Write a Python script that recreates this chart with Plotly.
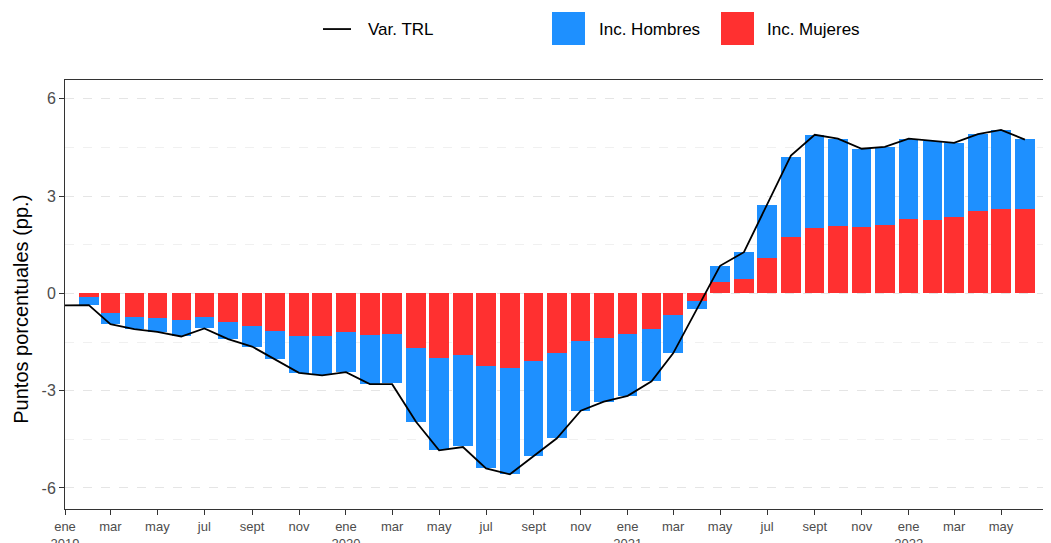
import plotly.graph_objects as go

# ---------------- data ----------------
line_dates = ["2019-01-01", "2019-02-01", "2019-03-01", "2019-04-01", "2019-05-01", "2019-06-01",
              "2019-07-01", "2019-08-01", "2019-09-01", "2019-10-01", "2019-11-01", "2019-12-01",
              "2020-01-01", "2020-02-01", "2020-03-01", "2020-04-01", "2020-05-01", "2020-06-01",
              "2020-07-01", "2020-08-01", "2020-09-01", "2020-10-01", "2020-11-01", "2020-12-01",
              "2021-01-01", "2021-02-01", "2021-03-01", "2021-04-01", "2021-05-01", "2021-06-01",
              "2021-07-01", "2021-08-01", "2021-09-01", "2021-10-01", "2021-11-01", "2021-12-01",
              "2022-01-01", "2022-02-01", "2022-03-01", "2022-04-01", "2022-05-01", "2022-06-01"]
var_trl = [-0.37, -0.36, -0.95, -1.10, -1.19, -1.33, -1.08, -1.41, -1.64, -2.03, -2.45, -2.53,
           -2.43, -2.80, -2.80, -3.96, -4.84, -4.74, -5.40, -5.58, -5.02, -4.47, -3.62, -3.34,
           -3.16, -2.71, -1.85, -0.48, 0.85, 1.27, 2.71, 4.25, 4.89, 4.77, 4.46, 4.52,
           4.77, 4.69, 4.64, 4.91, 5.04, 4.74]

bar_dates = line_dates[1:]
inc_mujeres = [-0.12, -0.59, -0.72, -0.75, -0.81, -0.73, -0.87, -1.00, -1.15, -1.33, -1.33,
               -1.20, -1.28, -1.24, -1.69, -2.00, -1.91, -2.25, -2.30, -2.10, -1.83, -1.48, -1.39,
               -1.26, -1.11, -0.67, -0.23, 0.36, 0.44, 1.09, 1.75, 2.03, 2.09, 2.05, 2.12,
               2.29, 2.27, 2.34, 2.53, 2.59, 2.59]
inc_hombres = [-0.23, -0.36, -0.38, -0.44, -0.52, -0.35, -0.54, -0.64, -0.88, -1.12, -1.20,
               -1.23, -1.52, -1.53, -2.27, -2.84, -2.81, -3.15, -3.28, -2.92, -2.64, -2.14, -1.95,
               -1.90, -1.60, -1.18, -0.25, 0.49, 0.83, 1.62, 2.47, 2.86, 2.68, 2.41, 2.40,
               2.48, 2.42, 2.30, 2.38, 2.45, 2.17]

tick_dates = ["2019-01-01", "2019-03-01", "2019-05-01", "2019-07-01", "2019-09-01", "2019-11-01",
              "2020-01-01", "2020-03-01", "2020-05-01", "2020-07-01", "2020-09-01", "2020-11-01",
              "2021-01-01", "2021-03-01", "2021-05-01", "2021-07-01", "2021-09-01", "2021-11-01",
              "2022-01-01", "2022-03-01", "2022-05-01", "2022-07-01"]
tick_labels = ["ene<br>2019", "mar", "may", "jul", "sept", "nov",
               "ene<br>2020", "mar", "may", "jul", "sept", "nov",
               "ene<br>2021", "mar", "may", "jul", "sept", "nov",
               "ene<br>2022", "mar", "may", "jul"]
y_ticks = [-6, -3, 0, 3, 6]

BLUE = "#1E90FF"
RED = "#FF3030"
FONT = "Liberation Sans, Arial, sans-serif"
BAR_WIDTH_MS = 25.2 * 86400000

fig = go.Figure()
fig.add_trace(go.Bar(x=bar_dates, y=inc_mujeres, name="Inc. Mujeres", marker_color=RED,
                     marker_line_width=0, width=BAR_WIDTH_MS, showlegend=False))
fig.add_trace(go.Bar(x=bar_dates, y=inc_hombres, name="Inc. Hombres", marker_color=BLUE,
                     marker_line_width=0, width=BAR_WIDTH_MS, showlegend=False))
fig.add_trace(go.Scatter(x=line_dates, y=var_trl, name="Var. TRL", mode="lines",
                         line=dict(color="black", width=1.8), showlegend=False))

# ---------- custom legend (large keys as in the reference) ----------
# page coordinates of the plot area (the page body adds an 8px offset)
L, R, T, B = 65, 1048, 80, 509.5
def px(x):
    return (x - L) / (R - L)
def py(y):
    return (B - y) / (B - T)

shapes = [
    dict(type="line", xref="paper", yref="paper", x0=px(323), x1=px(351), y0=py(29), y1=py(29),
         line=dict(color="black", width=1.8)),
    dict(type="rect", xref="paper", yref="paper", x0=px(552), x1=px(585), y0=py(45), y1=py(12),
         fillcolor=BLUE, line=dict(width=0)),
    dict(type="rect", xref="paper", yref="paper", x0=px(721), x1=px(754), y0=py(45), y1=py(12),
         fillcolor=RED, line=dict(width=0)),
]
annotations = [
    dict(text="Var. TRL", x=px(366), y=py(29), xref="paper", yref="paper", xanchor="left",
         yanchor="middle", showarrow=False, font=dict(size=17, color="black", family=FONT)),
    dict(text="Inc. Hombres", x=px(597), y=py(29), xref="paper", yref="paper", xanchor="left",
         yanchor="middle", showarrow=False, font=dict(size=17, color="black", family=FONT)),
    dict(text="Inc. Mujeres", x=px(765), y=py(29), xref="paper", yref="paper", xanchor="left",
         yanchor="middle", showarrow=False, font=dict(size=17, color="black", family=FONT)),
    dict(text="Puntos porcentuales (pp.)", x=px(21), y=py(310), xref="paper", yref="paper",
         xanchor="center", yanchor="middle", textangle=-90, showarrow=False,
         font=dict(size=20, color="black", family=FONT)),
]

fig.update_layout(
    width=1043, height=535,
    margin=dict(l=57, r=3, t=72, b=34),
    barmode="relative", bargap=0,
    paper_bgcolor="white", plot_bgcolor="white",
    font=dict(family=FONT),
    shapes=shapes, annotations=annotations,
    showlegend=False,
)
fig.update_xaxes(
    type="date", range=["2019-01-01", "2022-07-01"], automargin=False,
    tickmode="array", tickvals=tick_dates, ticktext=tick_labels,
    tickfont=dict(size=13, color="#4D4D4D"),
    ticks="outside", ticklen=5, tickcolor="#333333",
    showgrid=False, zeroline=False,
    showline=True, mirror=True, linecolor="#333333", linewidth=1,
)
fig.update_yaxes(
    range=[-6.65, 6.58], automargin=False,
    tickmode="array", tickvals=y_ticks, ticktext=[str(v) for v in y_ticks],
    tickfont=dict(size=16, color="#4D4D4D"),
    ticks="outside", ticklen=5, tickcolor="#333333",
    showgrid=True, gridcolor="#E5E5E5", gridwidth=1, griddash="dash",
    minor=dict(tickvals=[-4.5, -1.5, 1.5, 4.5], showgrid=True, gridcolor="#F0F0F0",
               gridwidth=1, griddash="dash", ticks=""),
    zeroline=False,
    showline=True, mirror=True, linecolor="#333333", linewidth=1,
)

fig.write_html("out.html")
